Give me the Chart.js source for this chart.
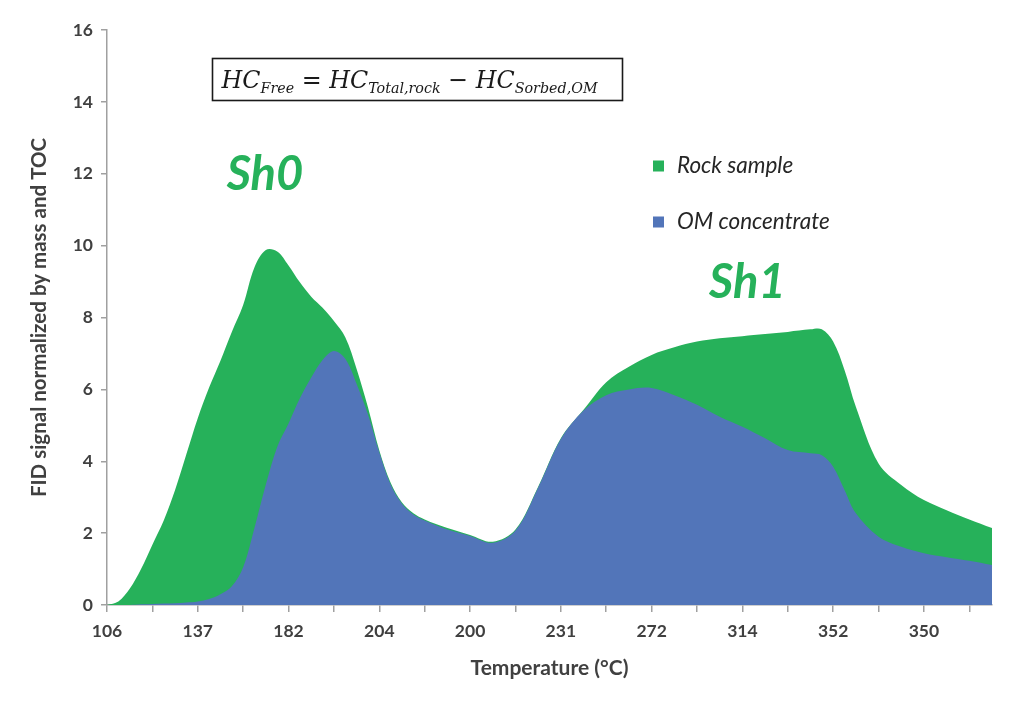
<!DOCTYPE html>
<html>
<head>
<meta charset="utf-8">
<script src="https://cdn.jsdelivr.net/npm/chart.js@4.4.1/dist/chart.umd.min.js"></script>
<style>
    html, body { margin: 0; padding: 0; background: #fff; }
    #chart-wrap { width: 1022px; height: 701px; }
</style>
</head>
<body>
<div id="chart-wrap"><canvas id="fid-chart"></canvas></div>
<script>
// labels under every second tick mark (as printed on the original axis)
const tempLabels = ['106', '137', '182', '204', '200', '231', '272', '314', '352', '350'];

// sample positions along the x axis, in tick units (one tick = one step)
const samplePos = [0, 0.25, 0.5, 0.75, 1, 1.25, 1.5, 1.75, 2, 2.25,
    2.5, 2.75, 3, 3.25, 3.5, 3.75, 4, 4.25, 4.5, 4.75,
    5, 5.25, 5.5, 5.75, 6, 6.25, 6.5, 6.75, 7, 7.5,
    8, 8.5, 9, 9.5, 10, 10.5, 11, 11.5, 12, 12.5,
    13, 13.5, 14, 14.5, 15, 15.5, 15.75, 16, 16.25, 16.5,
    17, 17.5, 18, 18.5, 19, 19.5];

const rockSample = [0, 0.1, 0.45, 1.0, 1.68, 2.35, 3.2, 4.2, 5.2, 6.05,
    6.8, 7.6, 8.35, 9.4, 9.88, 9.84, 9.45, 8.98, 8.58, 8.27,
    7.9, 7.45, 6.57, 5.5, 4.3, 3.4, 2.85, 2.55, 2.38, 2.14,
    1.95, 1.76, 2.1, 3.29, 4.64, 5.43, 6.2, 6.63, 6.96, 7.17,
    7.33, 7.42, 7.48, 7.54, 7.6, 7.67, 7.67, 7.33, 6.54, 5.52,
    3.94, 3.34, 2.92, 2.64, 2.38, 2.14];

const omConcentrate = [0, 0, 0, 0.02, 0.03, 0.04, 0.05, 0.07, 0.1, 0.17,
    0.3, 0.52, 1.05, 2.15, 3.35, 4.4, 5.05, 5.75, 6.33, 6.82,
    7.07, 6.85, 6.15, 5.3, 4.25, 3.35, 2.82, 2.52, 2.35, 2.1,
    1.92, 1.73, 2.07, 3.27, 4.62, 5.41, 5.84, 6.0, 6.04, 5.84,
    5.57, 5.24, 4.96, 4.64, 4.31, 4.22, 4.17, 3.85, 3.2, 2.55,
    1.9, 1.62, 1.44, 1.33, 1.23, 1.11];

const yTicks = [0, 2, 4, 6, 8, 10, 12, 14, 16];

const rockGreen = 'rgb(38, 177, 90)';
const omBlue = 'rgb(82, 117, 185)';
const axisGrey = '#a0a0a0';
const textGrey = '#404040';

Chart.defaults.font.family = 'Lato, "Noto Sans", sans-serif';

// peak labels, in data units
const peakNotes = [
    { text: 'Sh0', x: 3.48, y: 11.96 },
    { text: 'Sh1', x: 14.11, y: 8.96 }
];

const formulaParts = [
    ['HC', 'main'], ['Free', 'sub'], [' = ', 'op'],
    ['HC', 'main'], ['Total,rock', 'sub'], [' \u2212 ', 'op'],
    ['HC', 'main'], ['Sorbed,OM', 'sub']
];

const extrasPlugin = {
    id: 'extras',
    afterDraw(chart) {
        const ctx = chart.ctx;
        const xs = chart.scales.x;
        const ys = chart.scales.y;
        ctx.save();

        // Sh0 / Sh1
        ctx.fillStyle = rockGreen;
        ctx.font = 'italic bold 47px Lato, sans-serif';
        ctx.textAlign = 'center';
        ctx.textBaseline = 'middle';
        peakNotes.forEach(n => {
            ctx.fillText(n.text, xs.getPixelForValue(n.x), ys.getPixelForValue(n.y));
        });

        // legend, inside the plot
        ctx.textAlign = 'left';
        ctx.font = 'italic 22.5px Lato, sans-serif';
        const legendRows = [166, 222];
        chart.data.datasets.forEach((ds, i) => {
            const cy = legendRows[i];
            ctx.fillStyle = ds.backgroundColor;
            ctx.fillRect(653, cy - 5.5, 11, 11);
            ctx.fillStyle = '#262626';
            ctx.fillText(ds.label, 677, cy);
        });

        // formula box
        const box = { left: 212.5, top: 58.5, right: 622.5, bottom: 100.5 };
        ctx.strokeStyle = '#1a1a1a';
        ctx.lineWidth = 1.6;
        ctx.strokeRect(box.left, box.top, box.right - box.left, box.bottom - box.top);

        const fonts = {
            main: 'italic 25px "DejaVu Serif", serif',
            sub: 'italic 15px "DejaVu Serif", serif',
            op: '25px "DejaVu Serif", serif'
        };
        let total = 0;
        formulaParts.forEach(p => { ctx.font = fonts[p[1]]; total += ctx.measureText(p[0]).width; });
        const scale = Math.min(1, 376 / total);
        const px = (box.left + box.right) / 2 - total * scale / 2 - 8;
        const baseY = 88;
        ctx.fillStyle = '#1a1a1a';
        ctx.textBaseline = 'alphabetic';
        ctx.translate(px, 0);
        ctx.scale(scale, 1);
        let cx = 0;
        formulaParts.forEach(p => {
            ctx.font = fonts[p[1]];
            ctx.fillText(p[0], cx, p[1] === 'sub' ? baseY + 5 : baseY);
            cx += ctx.measureText(p[0]).width;
        });
        ctx.restore();
    }
};

const fidChartElement = document.getElementById('fid-chart').getContext('2d');
const fidChart = new Chart(fidChartElement, {
    type: 'line',
    data: {
        datasets: [{
            label: 'Rock sample',
            data: samplePos.map((x, i) => ({ x: x, y: rockSample[i] })),
            backgroundColor: rockGreen,
            borderWidth: 0,
            pointRadius: 0,
            fill: 'origin',
            tension: 0.35,
            order: 1
        }, {
            label: 'OM concentrate',
            data: samplePos.map((x, i) => ({ x: x, y: omConcentrate[i] })),
            backgroundColor: omBlue,
            borderWidth: 0,
            pointRadius: 0,
            fill: 'origin',
            tension: 0.35,
            order: 0
        }]
    },
    options: {
        responsive: true,
        maintainAspectRatio: false,
        animation: false,
        layout: {
            padding: { top: 30, right: 30, left: 0, bottom: 0 }
        },
        plugins: {
            legend: { display: false },
            tooltip: { enabled: false }
        },
        scales: {
            x: {
                type: 'linear',
                min: 0,
                max: 19.5,
                afterFit: s => { s.height = 96; },
                grid: { drawOnChartArea: false, tickLength: 7, color: axisGrey, lineWidth: 1.5 },
                border: { color: axisGrey, width: 1.5 },
                ticks: {
                    stepSize: 1,
                    includeBounds: false,
                    autoSkip: false,
                    maxRotation: 0,
                    padding: 9,
                    color: textGrey,
                    font: { size: 17.5, weight: 'bold' },
                    callback: v => (v % 2 === 0 ? tempLabels[v / 2] : '')
                },
                title: {
                    display: true,
                    text: 'Temperature (°C)',
                    color: textGrey,
                    font: { size: 21, weight: 'bold' },
                    padding: { top: 0, bottom: 20 }
                }
            },
            y: {
                min: 0,
                max: 16,
                afterFit: s => { s.width = 107; },
                afterBuildTicks: s => { s.ticks = yTicks.map(v => ({ value: v })); },
                grid: { drawOnChartArea: false, tickLength: 6, color: axisGrey, lineWidth: 1.5 },
                border: { color: axisGrey, width: 1.5 },
                ticks: {
                    padding: 8,
                    color: textGrey,
                    font: { size: 17.5, weight: 'bold' }
                },
                title: {
                    display: true,
                    text: 'FID signal normalized by mass and TOC',
                    color: textGrey,
                    font: { size: 20.5, weight: 'bold' },
                    padding: { top: 27, bottom: 0 }
                }
            }
        }
    },
    plugins: [extrasPlugin]
});
</script>
</body>
</html>
